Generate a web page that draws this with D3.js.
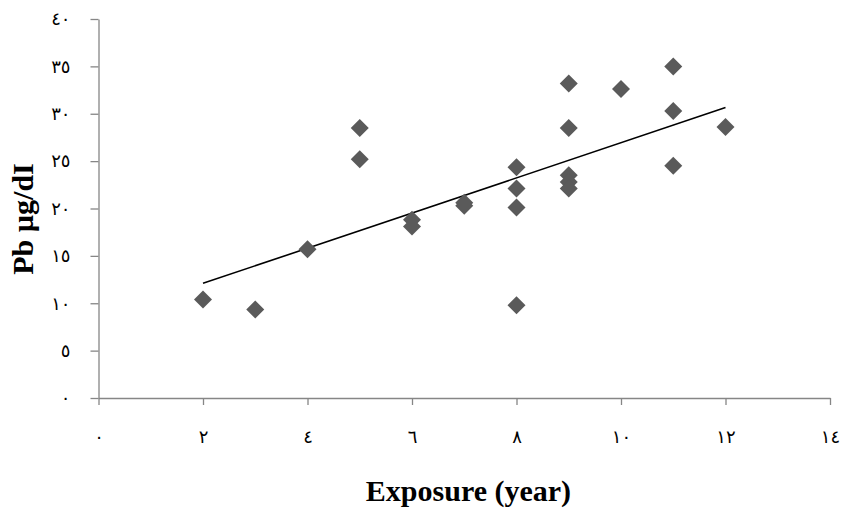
<!DOCTYPE html>
<html><head><meta charset="utf-8">
<script src="https://cdn.jsdelivr.net/npm/d3@7"></script>
<style>body{margin:0;background:#fff}svg{display:block}</style>
</head><body>
<script>
const exposure = [2, 3, 4, 5, 5, 6, 6, 7, 7, 8, 8, 8, 8, 9, 9, 9, 9, 9, 10, 11, 11, 11, 12];
const pbLevel  = [10.4, 9.35, 15.7, 28.5, 25.2, 18.8, 18.1, 20.6, 20.3, 24.35, 22.1, 20.1, 9.8, 33.2, 28.5, 23.5, 22.8, 22.1, 32.6, 35.0, 30.3, 24.5, 28.6];
const trendX = [2, 12];
const trendY = [12.1, 30.65];
const xTicks = [0, 2, 4, 6, 8, 10, 12, 14];
const yTicks = [0, 5, 10, 15, 20, 25, 30, 35, 40];
const xTitle = "Exposure (year)";
const yTitle = "Pb µg/dI";

const W = 845, H = 512;
const svg = d3.select("body").append("svg").attr("width", W).attr("height", H);
const x = d3.scaleLinear().domain([0, 14]).range([98.5, 830]);
const y = d3.scaleLinear().domain([0, 40]).range([398, 19]);
const arabic = n => String(n).replace(/\d/g, d => "٠١٢٣٤٥٦٧٨٩"[d]);
const axisColor = "#868686";

const xa = svg.append("g").attr("transform", `translate(0,${y(0)})`)
  .call(d3.axisBottom(x).tickValues(xTicks).tickFormat(arabic).tickSize(7).tickSizeOuter(0).tickPadding(25));
const ya = svg.append("g").attr("transform", `translate(${x(0)},0)`)
  .call(d3.axisLeft(y).tickValues(yTicks).tickFormat(arabic).tickSize(8).tickSizeOuter(0).tickPadding(20));
[xa, ya].forEach(g => {
  g.selectAll("path.domain").attr("stroke", axisColor).attr("stroke-width", 1.3);
  g.selectAll(".tick line").attr("stroke", axisColor).attr("stroke-width", 1.3);
  g.selectAll(".tick text").attr("fill", "#000").style("font-family", "'Liberation Serif','DejaVu Sans',serif").style("font-size", "18px");
});

const line = d3.line().x((d, i) => x(trendX[i])).y((d, i) => y(trendY[i]));
svg.append("path").datum(trendX).attr("d", line).attr("fill", "none").attr("stroke", "#000").attr("stroke-width", 1.6);

const r = 9;
svg.append("g").selectAll("path").data(exposure).join("path")
  .attr("transform", (d, i) => `translate(${x(d)},${y(pbLevel[i])})`)
  .attr("d", `M0,${-r}L${r},0L0,${r}L${-r},0Z`)
  .attr("fill", "#5a5a5a");

svg.append("text").attr("x", 468.5).attr("y", 501).attr("text-anchor", "middle")
  .style("font-family", "'Liberation Serif',serif").style("font-weight", "bold").style("font-size", "30px")
  .text(xTitle);
svg.append("text").attr("transform", "translate(33,219) rotate(-90)").attr("text-anchor", "middle")
  .style("font-family", "'Liberation Serif',serif").style("font-weight", "bold").style("font-size", "30px")
  .text(yTitle);
</script>
</body></html>
